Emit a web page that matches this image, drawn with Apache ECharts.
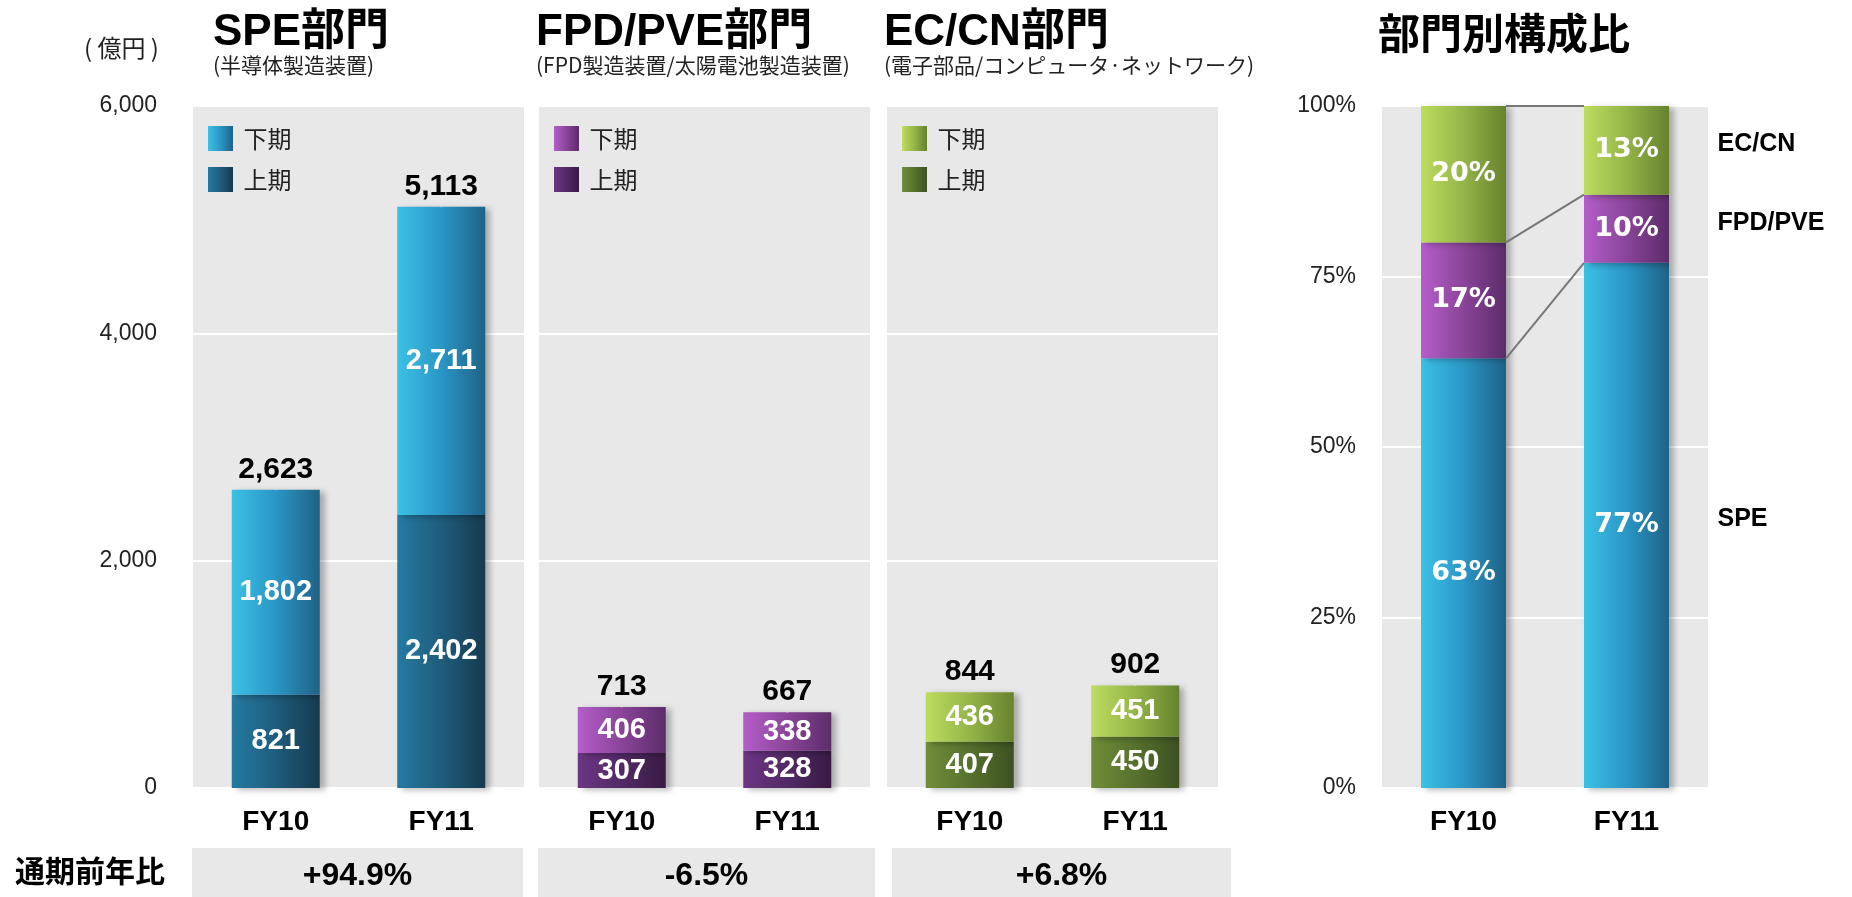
<!DOCTYPE html>
<html>
<head>
<meta charset="utf-8">
<title>部門別売上高</title>
<script src="https://cdn.jsdelivr.net/npm/echarts@6/dist/echarts.min.js"></script>
<style>
  html, body { margin: 0; padding: 0; background: #fff; }
  #main { width: 1852px; height: 897px; }
</style>
</head>
<body>
<div id="main"></div>
<script>
  // data (億円)
  var years = ['FY10', 'FY11'];
  var panelKeys = ['SPE', 'FPD', 'EC'];
  var panelTitles = ['SPE部門', 'FPD/PVE部門', 'EC/CN部門'];
  var panelSubs = ['(半導体製造装置)', '(FPD製造装置/太陽電池製造装置)', '(電子部品/コンピュータ·ネットワーク)'];
  var speFirst = [821, 2402];
  var speSecond = [1802, 2711];
  var speTotal = [2623, 5113];
  var fpdFirst = [307, 328];
  var fpdSecond = [406, 338];
  var fpdTotal = [713, 667];
  var ecFirst = [407, 450];
  var ecSecond = [436, 451];
  var ecTotal = [844, 902];
  var yoy = ['+94.9%', '-6.5%', '+6.8%'];
  // 部門別構成比 (%)
  var segNames = ['SPE', 'FPD/PVE', 'EC/CN'];
  var shareSpe = [63, 77];
  var shareFpd = [17, 10];
  var shareEc = [20, 13];

  var firstH = [speFirst, fpdFirst, ecFirst];
  var secondH = [speSecond, fpdSecond, ecSecond];
  var totals = [speTotal, fpdTotal, ecTotal];
  var shares = [shareSpe, shareFpd, shareEc];

  // layout
  var panelLeft = [193, 539, 887];
  var panelW = 331;
  var footLeft = [192, 538, 892], footW = [331, 337, 339];
  var ratioLeft = 1382, ratioW = 326;
  var gridTop = 106, gridBottom = 109;
  var latin = '"Liberation Sans", "Noto Sans CJK JP", sans-serif';
  var cjk = '"Noto Sans CJK JP", sans-serif';

  function grad(c) {
    return new echarts.graphic.LinearGradient(0, 0, 1, 0, [
      {offset: 0, color: c[0]}, {offset: 0.5, color: c[1]}, {offset: 1, color: c[2]}
    ]);
  }
  var colSecond = [
    ['#3cc1e5', '#2a96c6', '#1f6286'],
    ['#b45ec9', '#8a4499', '#5c2c6a'],
    ['#bedc60', '#94b548', '#66822e']
  ];
  var colFirst = [
    ['#257aa2', '#1f5c7c', '#163a4f'],
    ['#6c3685', '#522966', '#381a43'],
    ['#708e3a', '#56712d', '#3d5121']
  ];
  var shadow = {shadowColor: 'rgba(0,0,0,0.28)', shadowBlur: 6, shadowOffsetX: 5, shadowOffsetY: 2};

  function fmt(v) { return Number(v).toLocaleString('en-US'); }

  var grids = [], xAxes = [], yAxes = [], series = [], legends = [], titles = [];
  var innerLabel = {show: true, position: 'inside', color: '#fff', fontSize: 29, fontWeight: 'bold',
    fontFamily: latin, textBorderWidth: 0, formatter: function (p) { return fmt(p.value); }};

  for (var i = 0; i < 3; i++) {
    grids.push({left: panelLeft[i], width: panelW, top: gridTop, bottom: gridBottom,
      show: true, backgroundColor: '#e8e8e8', borderWidth: 0});
    xAxes.push({type: 'category', gridIndex: i, data: years,
      axisLine: {show: false}, axisTick: {show: false},
      axisLabel: {margin: 20, fontSize: 28, fontWeight: 'bold', color: '#000', fontFamily: latin}});
    yAxes.push({type: 'value', gridIndex: i, min: 0, max: 6000, interval: 2000,
      splitLine: {lineStyle: {color: '#fff', width: 2}},
      axisLine: {show: false}, axisTick: {show: false},
      axisLabel: {show: i === 0, margin: 36, fontSize: 23, color: '#222', fontFamily: latin,
        formatter: function (v) { return fmt(v); }}});
    series.push({type: 'bar', name: panelKeys[i] + '上期', xAxisIndex: i, yAxisIndex: i,
      stack: 'p' + i, barWidth: 88, data: firstH[i],
      itemStyle: Object.assign({color: grad(colFirst[i])}, shadow), label: innerLabel});
    series.push({type: 'bar', name: panelKeys[i] + '下期', xAxisIndex: i, yAxisIndex: i,
      stack: 'p' + i, barWidth: 88, data: secondH[i],
      itemStyle: Object.assign({color: grad(colSecond[i])}, shadow), label: innerLabel});
    series.push({type: 'scatter', xAxisIndex: i, yAxisIndex: i, data: totals[i],
      symbolSize: 1, itemStyle: {color: '#e8e8e8', opacity: 1}, silent: true, z: 5,
      label: {show: true, position: 'top', distance: 5, color: '#000', opacity: 1, fontSize: 30,
        fontWeight: 'bold', fontFamily: latin, formatter: function (p) { return fmt(p.value); }}});
    legends.push({left: panelLeft[i] + 15, top: 126, orient: 'vertical', padding: 0,
      itemWidth: 25, itemHeight: 25, itemGap: 16, icon: 'rect', selectedMode: false,
      data: [panelKeys[i] + '下期', panelKeys[i] + '上期'],
      formatter: function (n) { return ' ' + n.slice(-2); },
      textStyle: {fontSize: 24, color: '#222', fontFamily: cjk}});
    titles.push({text: panelTitles[i], subtext: panelSubs[i],
      left: i === 0 ? panelLeft[i] + 20 : panelLeft[i] - 3, top: 11, padding: 0, itemGap: 0,
      textStyle: {fontSize: 44, fontWeight: 'bold', color: '#000', fontFamily: latin},
      subtextStyle: {fontSize: 21, color: '#222', fontFamily: cjk}});
  }
  titles.push({text: '部門別構成比', left: 1378, top: 12, padding: 0,
    textStyle: {fontSize: 42, fontWeight: 'bold', color: '#000', fontFamily: cjk}});

  // 構成比 grid
  grids.push({left: ratioLeft, width: ratioW, top: gridTop, bottom: gridBottom,
    show: true, backgroundColor: '#e8e8e8', borderWidth: 0});
  xAxes.push({type: 'category', gridIndex: 3, data: years,
    axisLine: {show: false}, axisTick: {show: false},
    axisLabel: {margin: 20, fontSize: 28, fontWeight: 'bold', color: '#000', fontFamily: latin}});
  yAxes.push({type: 'value', gridIndex: 3, min: 0, max: 100, interval: 25,
    splitLine: {lineStyle: {color: '#fff', width: 2}},
    axisLine: {show: false}, axisTick: {show: false},
    axisLabel: {margin: 26, fontSize: 23, color: '#222', fontFamily: latin, formatter: '{value}%'}});
  var ratioBarW = 85;
  for (var k = 0; k < 3; k++) {
    series.push({type: 'bar', name: segNames[k], xAxisIndex: 3, yAxisIndex: 3, stack: 'ratio',
      barWidth: ratioBarW, data: shares[k],
      itemStyle: Object.assign({color: grad(colSecond[k])}, shadow),
      label: {show: true, position: 'inside', color: '#fff', fontSize: 27, fontWeight: 'bold',
        fontFamily: '"DejaVu Sans", sans-serif', textBorderWidth: 0, formatter: '{c}%'}});
  }

  // boundaries between segments, FY10 -> FY11
  var cum = [0, 0], bounds = [], mids = [];
  for (var k2 = 0; k2 < 3; k2++) {
    mids.push([1, cum[1] + shares[k2][1] / 2]);
    cum = [cum[0] + shares[k2][0], cum[1] + shares[k2][1]];
    bounds.push([0, 0, cum[0], cum[1]]);
  }
  series.push({type: 'custom', xAxisIndex: 3, yAxisIndex: 3, silent: true, z: 10,
    encode: {x: 0, y: 2}, data: bounds,
    renderItem: function (params, api) {
      var a = api.coord([0, api.value(2)]);
      var b = api.coord([1, api.value(3)]);
      return {type: 'line', shape: {x1: a[0] + ratioBarW / 2, y1: a[1], x2: b[0] - ratioBarW / 2, y2: b[1]},
        style: {stroke: '#777', lineWidth: 2}};
    }});
  series.push({type: 'custom', xAxisIndex: 3, yAxisIndex: 3, silent: true, z: 10,
    encode: {x: 0, y: 1}, data: mids,
    renderItem: function (params, api) {
      var p = api.coord([1, api.value(1)]);
      return {type: 'text', x: p[0] + 91, y: p[1] - 6,
        style: {text: segNames[params.dataIndex], fill: '#000', fontSize: 25, fontWeight: 'bold',
          fontFamily: latin, verticalAlign: 'middle', align: 'left'}};
    }});

  // footer row and unit
  var graphics = [
    {type: 'text', left: 84, top: 36, style: {text: '( 億円 )', fontSize: 24, fill: '#222', fontFamily: cjk}},
    {type: 'text', left: 15, top: 856, style: {text: '通期前年比', fontSize: 30, fontWeight: 'bold', fill: '#000', fontFamily: cjk}}
  ];
  for (var f = 0; f < 3; f++) {
    graphics.push({type: 'group', left: footLeft[f], top: 848, children: [
      {type: 'rect', shape: {x: 0, y: 0, width: footW[f], height: 49}, style: {fill: '#e8e8e8'}},
      {type: 'text', x: footW[f] / 2, y: 28, style: {text: yoy[f], fontSize: 32, fontWeight: 'bold',
        fill: '#000', fontFamily: latin, align: 'center', verticalAlign: 'middle'}}
    ]});
  }

  var option = {
    backgroundColor: '#fff',
    animation: false,
    title: titles,
    legend: legends,
    grid: grids,
    xAxis: xAxes,
    yAxis: yAxes,
    series: series,
    graphic: graphics
  };
  var myChart = echarts.init(document.getElementById('main'));
  myChart.setOption(option);
</script>
</body>
</html>
